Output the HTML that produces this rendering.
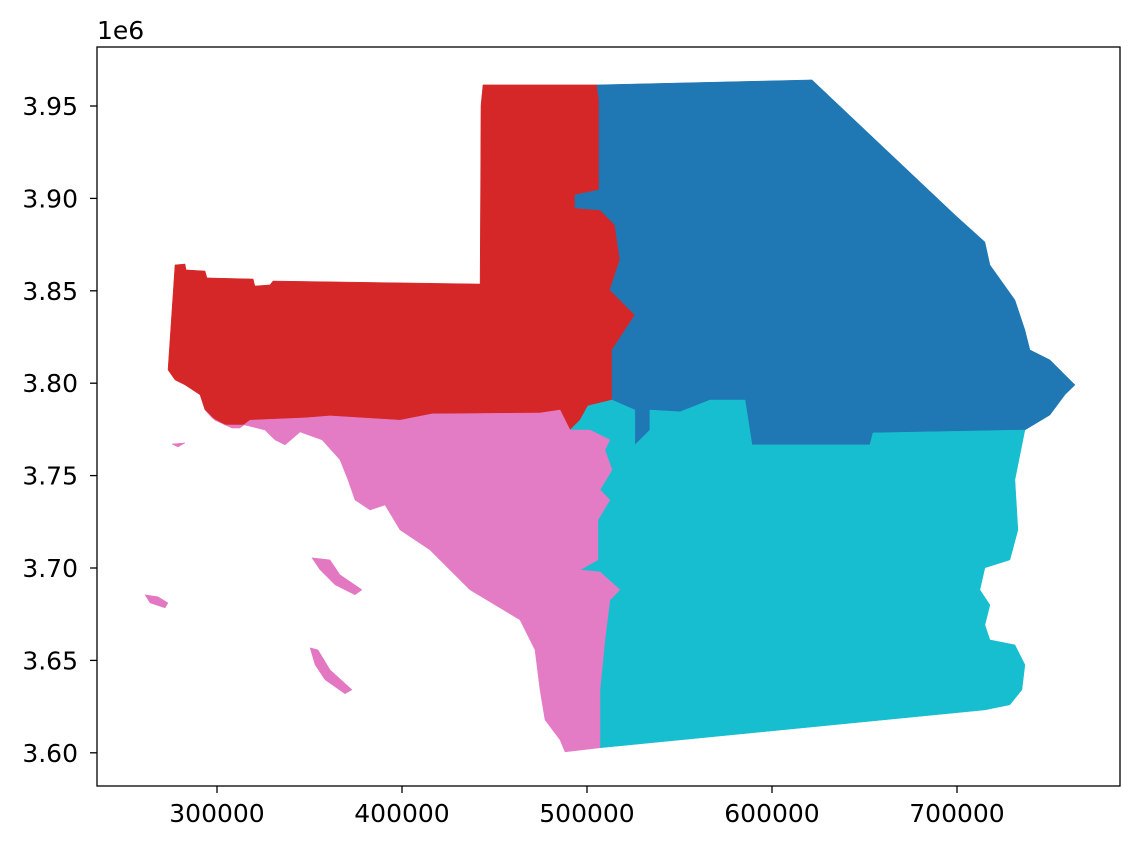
<!DOCTYPE html>
<html><head><meta charset="utf-8">
<style>
html,body{margin:0;padding:0;background:#fff;}
svg{display:block;font-family:"DejaVu Sans","Liberation Sans",sans-serif;}
</style></head>
<body>
<svg id="chart" width="1140" height="850" viewBox="0 0 1140 850" xmlns="http://www.w3.org/2000/svg">
<g id="regions"></g>
<rect x="97" y="47" width="1023" height="739" fill="none" stroke="#000" stroke-width="1.3"/>
<g id="axes"></g>
<text x="97" y="39" font-size="25">1e6</text>
</svg>
<script>
const xTicks=[300000,400000,500000,600000,700000];
const yTicks=[3.60,3.65,3.70,3.75,3.80,3.85,3.90,3.95];
const yTickLabels=["3.60","3.65","3.70","3.75","3.80","3.85","3.90","3.95"];
// polygons: [x in km, y in km]
const redRegion=[[273.5,3807.2],[277.3,3864],[282.7,3864.5],[283.3,3861.3],[293.5,3860.7],[294.6,3857],[319.5,3856.4],[320.5,3852.6],[328.6,3853.2],[330.3,3855.3],[442.2,3853.7],[442.7,3950.5],[443.8,3961.4],[505.4,3961.4],[506.5,3953.2],[506.5,3904.6],[493.5,3901.9],[493.5,3894.8],[507,3893.7],[515.1,3885.6],[517.8,3866.7],[512.4,3850.5],[525.9,3836.9],[513.5,3818],[513.5,3790.9],[500.5,3787.7],[496.2,3780],[490.8,3774.7],[485.4,3785.5],[474.6,3783.9],[416.2,3783.4],[398.9,3780],[361.1,3782.3],[347.6,3781.2],[317.8,3780],[312.4,3775.8],[308.1,3775.8],[298.9,3780],[293.5,3785.5],[290.8,3793.7],[282.7,3799.1],[277.3,3801.8]];
const blueRegion=[[505.4,3961.4],[621.6,3964.1],[698.9,3891],[715.1,3876.4],[717.8,3864],[731.3,3845],[736.7,3828.8],[739.4,3818],[750.2,3812.6],[763.8,3799.1],[758.3,3793.7],[750.2,3782.8],[736.7,3774.7],[654.6,3773.1],[652.9,3766.6],[589.2,3766.6],[585.4,3790.9],[566.5,3790.9],[555.7,3785.5],[550.3,3784.5],[534,3785.5],[534,3774.7],[525.9,3766.6],[525.9,3785.5],[513.5,3790.9],[513.5,3818],[525.9,3836.9],[512.4,3850.5],[517.8,3866.7],[515.1,3885.6],[507,3893.7],[493.5,3894.8],[493.5,3901.9],[506.5,3904.6],[506.5,3953.2]];
const cyanRegion=[[490.8,3774.7],[496.2,3780],[500.5,3787.7],[513.5,3790.9],[525.9,3785.5],[525.9,3766.6],[534,3774.7],[534,3785.5],[550.3,3784.5],[566.5,3790.9],[585.4,3790.9],[589.2,3766.6],[652.9,3766.6],[654.6,3773.1],[736.7,3774.7],[734,3761.2],[731.3,3747.7],[732.9,3720.6],[728.6,3704.4],[715.1,3700.1],[712.4,3688.2],[717.8,3680],[715.1,3669.2],[717.8,3661.1],[731.3,3658.4],[736.7,3647.6],[735.1,3634.1],[728.6,3626],[715.1,3623.2],[507,3602.7],[507,3634.1],[509.7,3661.1],[512.4,3682.7],[517.8,3688.2],[507,3697.9],[496.2,3698.9],[505.9,3704.4],[505.9,3726],[512.4,3736.8],[507,3742.3],[513.5,3753.1],[509.7,3763.9],[512.4,3769.3],[501.6,3774.7]];
const pinkRegion=[[293.5,3785.5],[298.9,3780],[308.1,3775.8],[312.4,3775.8],[317.8,3780],[347.6,3781.2],[361.1,3782.3],[398.9,3780],[416.2,3783.4],[474.6,3783.9],[485.4,3785.5],[490.8,3774.7],[501.6,3774.7],[512.4,3769.3],[509.7,3763.9],[513.5,3753.1],[507,3742.3],[512.4,3736.8],[505.9,3726],[505.9,3704.4],[496.2,3698.9],[507,3697.9],[517.8,3688.2],[512.4,3682.7],[509.7,3661.1],[507,3634.1],[507,3602.7],[488.1,3600.5],[485.4,3607],[477.3,3617.8],[474.6,3634.1],[471.9,3655.7],[463.8,3671.9],[436.7,3688.2],[415.1,3709.8],[398.9,3720.6],[390.8,3734.1],[382.7,3731.4],[374.6,3736.8],[370.8,3747.7],[366.5,3758.5],[356.8,3769.3],[344.9,3773.6],[336.8,3766.6],[331.3,3769.3],[325.9,3774.7],[315.1,3777.4],[304.3,3777.4],[297.3,3781.2]];
const islandA=[[351.3,3705.5],[361.1,3704.4],[366.5,3696.3],[378.4,3688.2],[374.6,3685.5],[363.8,3690.9],[355.7,3699]];
const islandB=[[350.3,3656.8],[354.6,3655.7],[361.1,3644.9],[373,3634.1],[369.2,3631.9],[358.4,3639.5],[353,3647.6]];
const islandC=[[261.1,3685.5],[268.1,3684.4],[273.5,3681.1],[271.9,3678.4],[263.8,3681.1]];
const islandD=[[275.7,3767.1],[282.7,3767.7],[278.9,3765.5]];

const NS='http://www.w3.org/2000/svg';
function xPx(v){return 217+(v-300000)/100000*185;}
function yPx(v){return 106+(3.95-v)/0.05*92.4;}
function ptX(p){return xPx(p[0]*1000);}
function ptY(p){return yPx(p[1]/1000);}
const reg=document.getElementById('regions');
function poly(pts,fill,name){
  const el=document.createElementNS(NS,'polygon');
  el.setAttribute('points',pts.map(p=>ptX(p).toFixed(1)+','+ptY(p).toFixed(1)).join(' '));
  el.setAttribute('fill',fill);
  el.setAttribute('stroke',fill);
  el.setAttribute('stroke-width','0.5');
  
  
  reg.appendChild(el);
}
poly(redRegion,'#d62728','region-red');
poly(blueRegion,'#1f77b4','region-blue');
poly(cyanRegion,'#17becf','region-cyan');
poly(pinkRegion,'#e47bc5','region-pink');
poly(islandA,'#e377c2','island-a');
poly(islandB,'#e377c2','island-b');
poly(islandC,'#e377c2','island-c');
poly(islandD,'#e377c2','island-d');

const ax=document.getElementById('axes');
xTicks.forEach(t=>{
  const x=xPx(t);
  const l=document.createElementNS(NS,'line');
  l.setAttribute('x1',x);l.setAttribute('x2',x);l.setAttribute('y1',786);l.setAttribute('y2',793);
  l.setAttribute('stroke','#000');l.setAttribute('stroke-width','1.3');
  
  
  ax.appendChild(l);
  const tx=document.createElementNS(NS,'text');
  tx.setAttribute('x',x);tx.setAttribute('y',822);tx.setAttribute('text-anchor','middle');tx.setAttribute('font-size','25');
  tx.textContent=String(t);
  
  
  ax.appendChild(tx);
});
yTicks.forEach((t,i)=>{
  const y=yPx(t);
  const l=document.createElementNS(NS,'line');
  l.setAttribute('x1',90);l.setAttribute('x2',97);l.setAttribute('y1',y);l.setAttribute('y2',y);
  l.setAttribute('stroke','#000');l.setAttribute('stroke-width','1.3');
  
  
  ax.appendChild(l);
  const tx=document.createElementNS(NS,'text');
  tx.setAttribute('x',78);tx.setAttribute('y',y+9);tx.setAttribute('text-anchor','end');tx.setAttribute('font-size','25');
  tx.textContent=yTickLabels[i];
  
  
  ax.appendChild(tx);
});
</script>
</body></html>
